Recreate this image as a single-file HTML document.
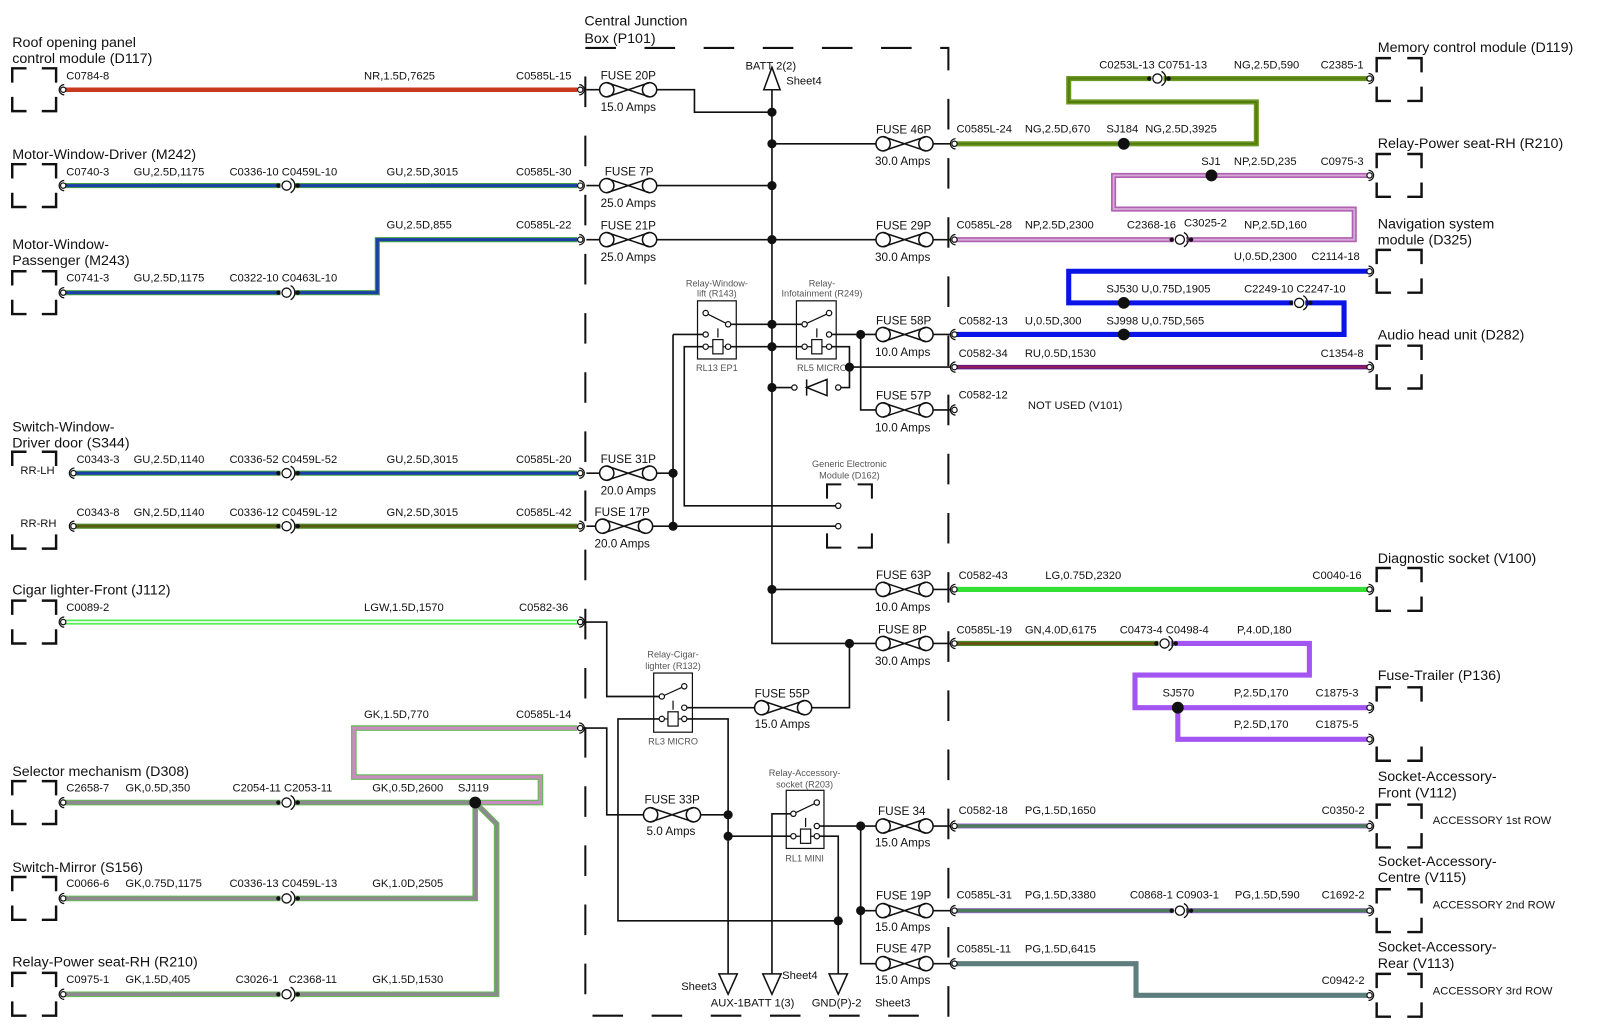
<!DOCTYPE html>
<html><head><meta charset="utf-8"><style>
html,body{margin:0;padding:0;background:#fff}
svg{display:block}
text{font-family:"Liberation Sans",Arial,sans-serif;fill:#111}
.s{font-size:11px}.t{font-size:14px}.f{font-size:11.5px}.r{font-size:9px;fill:#555}
.k{fill:none;stroke:#111;stroke-width:1.6}
.bx{fill:none;stroke:#111;stroke-width:2.4}
.w{fill:none;stroke-linejoin:miter}
</style></head><body>
<svg width="1600" height="1032" viewBox="0 0 1569 1012" xmlns="http://www.w3.org/2000/svg">
<defs>
<g id="fz" fill="none" stroke="#111" stroke-width="1.5"><circle cx="-21" cy="0" r="7"/><circle cx="21" cy="0" r="7"/><path d="M-21,-7L21,7M-21,7L21,-7"/></g>
<g id="ce" fill="#fff" stroke="#111" stroke-width="1.2"><circle r="2.6"/><path d="M-1,-5A5,5 0 0 1 -1,5" fill="none"/></g>
<g id="cx" fill="#fff" stroke="#111" stroke-width="1.2"><circle r="2.6"/><path d="M1,-5A5,5 0 0 0 1,5" fill="none"/></g>
<g id="ci" stroke="#111" stroke-width="1.3"><circle r="4.5" fill="#fff"/><path d="M4,-7A8,8 0 0 1 4,7" fill="none"/><circle cx="-8" r="1.5" fill="#111"/><circle cx="11" r="1.5" fill="#111"/></g>
<circle id="dt" r="4.5" fill="#111"/>
<circle id="sj" r="5.8" fill="#111"/>
<circle id="sc" r="2.6" fill="#fff" stroke="#111" stroke-width="1.2"/>
</defs>

<text class="t" x="573" y="25">Central Junction</text>
<text class="t" x="573" y="42">Box (P101)</text>
<path d="M574,47H930V996H574Z" fill="none" stroke="#111" stroke-width="2" stroke-dasharray="30,28"/>

<g class="bx">
<path d="M12,81V67H26M41,67H55V81M12,95V109H26M41,109H55V95"/>
<path d="M12,175V161H26M41,161H55V175M12,189V203H26M41,203H55V189"/>
<path d="M12,280V266H26M41,266H55V280M12,294V308H26M41,308H55V294"/>
<path d="M12,457V443H26M41,443H55V457M12,524V538H26M41,538H55V524"/>
<path d="M12,603V589H26M41,589H55V603M12,617V631H26M41,631H55V617"/>
<path d="M12,780V766H26M41,766H55V780M12,794V808H26M41,808H55V794"/>
<path d="M12,874V860H26M41,860H55V874M12,888V902H26M41,902H55V888"/>
<path d="M12,968V954H26M41,954H55V968M12,982V996H26M41,996H55V982"/>
<path d="M1350,71V57H1364M1380,57H1394V71M1350,85V99H1364M1380,99H1394V85"/>
<path d="M1350,165V151H1364M1380,151H1394V165M1350,179V193H1364M1380,193H1394V179"/>
<path d="M1350,259V245H1364M1380,245H1394V259M1350,273V287H1364M1380,287H1394V273"/>
<path d="M1350,353V339H1364M1380,339H1394V353M1350,367V381H1364M1380,381H1394V367"/>
<path d="M1350,571V557H1364M1380,557H1394V571M1350,585V599H1364M1380,599H1394V585"/>
<path d="M1350,688V674H1364M1380,674H1394V688M1350,732V746H1364M1380,746H1394V732"/>
<path d="M1350,803V789H1364M1380,789H1394V803M1350,817V831H1364M1380,831H1394V817"/>
<path d="M1350,886V872H1364M1380,872H1394V886M1350,900V914H1364M1380,914H1394V900"/>
<path d="M1350,969V955H1364M1380,955H1394V969M1350,983V997H1364M1380,997H1394V983"/>
<path d="M811,489V475H825M841,475H855V489M811,523V537H825M841,537H855V523" stroke-width="2"/>
</g>

<path class="w" d="M62,88H566" stroke="#c83a1e" stroke-width="4.5"/>
<g stroke="#46a046" stroke-width="5" class="w">
<path d="M62,182H275M289,182H566"/><path d="M62,287H275M289,287H370V235H566"/><path d="M72,464H275M289,464H566"/>
</g>
<g stroke="#1b3fa8" stroke-width="3" class="w">
<path d="M62,182H275M289,182H566"/><path d="M62,287H275M289,287H370V235H566"/><path d="M72,464H275M289,464H566"/>
</g>
<path class="w" d="M72,516H275M289,516H566" stroke="#4a8a2a" stroke-width="5"/>
<path class="w" d="M72,516H275M289,516H566" stroke="#5a5a12" stroke-width="2.5"/>
<path class="w" d="M62,610H566" stroke="#55ee55" stroke-width="5"/>
<path class="w" d="M62,610H566" stroke="#fff" stroke-width="1.5"/>
<g stroke="#66bb55" stroke-width="5.5" class="w">
<path d="M566,714H347V762H530V787H466"/><path d="M62,787H275M289,787H466"/><path d="M62,881H275M289,881H466V787"/><path d="M62,975H275M289,975H487V808L466,787"/>
</g>
<path class="w" d="M566,714H347V762H530V787H466" stroke="#c88cc0" stroke-width="3.2"/>
<g stroke="#8e8890" stroke-width="3.5" class="w">
<path d="M62,787H275M289,787H466"/><path d="M62,881H275M289,881H466V787"/><path d="M62,975H275M289,975H487V808L466,787"/>
</g>
<path class="w" d="M936,141H1232V100H1048V77H1129M1141,77H1343" stroke="#6a9a22" stroke-width="5"/>
<path class="w" d="M936,141H1232V100H1048V77H1129M1141,77H1343" stroke="#557a10" stroke-width="2"/>
<path class="w" d="M1343,172H1092V205H1328V235H1163M1151,235H936" stroke="#b060b0" stroke-width="5"/>
<path class="w" d="M1343,172H1092V205H1328V235H1163M1151,235H936" stroke="#d8a8d8" stroke-width="1.8"/>
<path class="w" d="M1343,266H1048V297H1268M1280,297H1318V328H936" stroke="#0a14e6" stroke-width="5"/>
<path class="w" d="M936,360H1343" stroke="#6a1a7a" stroke-width="4.5"/>
<path class="w" d="M936,360H1343" stroke="#a02050" stroke-width="1.3"/>
<path class="w" d="M936,578H1343" stroke="#33e033" stroke-width="5"/>
<path class="w" d="M936,631H1136" stroke="#4a8a2a" stroke-width="5"/>
<path class="w" d="M936,631H1136" stroke="#6a4a10" stroke-width="2.5"/>
<path class="w" d="M1148,631H1284V662H1113V694H1343M1155,694V725H1343" stroke="#a255f0" stroke-width="5"/>
<path class="w" d="M936,810H1343M936,893H1151M1163,893H1343" stroke="#9a6ad0" stroke-width="5"/>
<path class="w" d="M936,810H1343M936,893H1151M1163,893H1343" stroke="#4d7a5a" stroke-width="3.5"/>
<path class="w" d="M936,945H1114V976H1343" stroke="#5e7e7e" stroke-width="5"/>

<path class="k" d="M575,88H588M644,88H681V110H757M575,182H588M644,182H757M575,235H588M644,235H859M757,66V631H859M757,141H859M757,578H859M915,141H932M915,235H932M915,328H932M915,402H932M915,578H932M915,631H932M915,810H932M915,893H932M915,945H932"/>
<path class="k" d="M813,328H859M844,328V402H859M833,360H932M575,464H588M644,464H660M575,516H584M640,516H820M660,328V516M660,328H690M690,340H671V496H820M716,340H787M716,318H787M757,380H779M822,380H833V340H815"/>
<path class="k" d="M833,631V694H796M740,694H673M569,610H595V683H647M647,705H606V903H822M673,705H714V955M569,714H595V799H631M687,799H714M714,820H776M776,798H757V955M803,820H822V955M803,810H859M844,810V945H859M844,893H859"/>
<path d="M749,88L757,66L765,88Z" fill="#fff" stroke="#111" stroke-width="1.5"/>
<path d="M705,955L723,955L714,975ZM748,955L766,955L757,975ZM813,955L831,955L822,975Z" fill="#fff" stroke="#111" stroke-width="1.5"/>
<path d="M791,372V388M811,372V388L791,380Z" fill="#fff" stroke="#111" stroke-width="1.5"/>
<use href="#sc" x="779" y="380"/><use href="#sc" x="822" y="380"/>

<g fill="none" stroke="#111" stroke-width="1.2">
<rect x="684" y="295" width="38" height="57"/><rect x="781" y="295" width="39" height="57"/>
<rect x="641" y="660" width="38" height="58"/><rect x="771" y="775" width="37" height="57"/>
<path d="M692,307L714,318M789,318L813,307M649,683L671,673M778,798L801,787M704,322V331M801,322V331M660,687V696M790,802V811"/>
<rect x="699" y="333" width="10" height="14"/><rect x="796" y="333" width="10" height="14"/><rect x="655" y="698" width="10" height="14"/><rect x="785" y="813" width="10" height="14"/>
<path d="M694,340H699M709,340H712M791,340H796M806,340H811M651,705H655M665,705H669M780,820H785M795,820H799"/>
</g>
<g>
<use href="#sc" x="692" y="307"/><use href="#sc" x="714" y="318"/><use href="#sc" x="692" y="328"/><use href="#sc" x="692" y="340"/><use href="#sc" x="714" y="340"/>
<use href="#sc" x="789" y="318"/><use href="#sc" x="813" y="307"/><use href="#sc" x="813" y="328"/><use href="#sc" x="789" y="340"/><use href="#sc" x="813" y="340"/>
<use href="#sc" x="649" y="683"/><use href="#sc" x="671" y="673"/><use href="#sc" x="671" y="694"/><use href="#sc" x="649" y="705"/><use href="#sc" x="671" y="705"/>
<use href="#sc" x="778" y="798"/><use href="#sc" x="801" y="787"/><use href="#sc" x="801" y="810"/><use href="#sc" x="778" y="820"/><use href="#sc" x="801" y="820"/>
<use href="#sc" x="822" y="496"/><use href="#sc" x="822" y="516"/>
</g>
<g text-anchor="middle">
<text class="r" x="703" y="281">Relay-Window-</text><text class="r" x="703" y="291">lift (R143)</text><text class="r" x="703" y="364">RL13 EP1</text>
<text class="r" x="806" y="281">Relay-</text><text class="r" x="806" y="291">Infotainment (R249)</text><text class="r" x="806" y="364">RL5 MICRO</text>
<text class="r" x="660" y="645">Relay-Cigar-</text><text class="r" x="660" y="656">lighter (R132)</text><text class="r" x="660" y="730">RL3 MICRO</text>
<text class="r" x="789" y="761">Relay-Accessory-</text><text class="r" x="789" y="772">socket (R203)</text><text class="r" x="789" y="845">RL1 MINI</text>
<text class="r" x="833" y="458">Generic Electronic</text><text class="r" x="833" y="469">Module (D162)</text>
</g>

<use href="#fz" x="616" y="88"/><use href="#fz" x="616" y="182"/><use href="#fz" x="616" y="235"/><use href="#fz" x="616" y="464"/><use href="#fz" x="612" y="516"/>
<use href="#fz" x="887" y="141"/><use href="#fz" x="887" y="235"/><use href="#fz" x="887" y="328"/><use href="#fz" x="887" y="402"/><use href="#fz" x="887" y="578"/><use href="#fz" x="887" y="631"/><use href="#fz" x="887" y="810"/><use href="#fz" x="887" y="893"/><use href="#fz" x="887" y="945"/>
<use href="#fz" x="768" y="694"/><use href="#fz" x="659" y="799"/>
<g class="f">
<text x="589" y="78">FUSE 20P</text><text x="589" y="109">15.0 Amps</text>
<text x="593" y="172">FUSE 7P</text><text x="589" y="203">25.0 Amps</text>
<text x="589" y="225">FUSE 21P</text><text x="589" y="256">25.0 Amps</text>
<text x="589" y="454">FUSE 31P</text><text x="589" y="485">20.0 Amps</text>
<text x="583" y="506">FUSE 17P</text><text x="583" y="537">20.0 Amps</text>
<text x="859" y="131">FUSE 46P</text><text x="858" y="162">30.0 Amps</text>
<text x="859" y="225">FUSE 29P</text><text x="858" y="256">30.0 Amps</text>
<text x="859" y="318">FUSE 58P</text><text x="858" y="349">10.0 Amps</text>
<text x="859" y="392">FUSE 57P</text><text x="858" y="423">10.0 Amps</text>
<text x="859" y="568">FUSE 63P</text><text x="858" y="599">10.0 Amps</text>
<text x="861" y="621">FUSE 8P</text><text x="858" y="652">30.0 Amps</text>
<text x="861" y="799">FUSE 34</text><text x="858" y="830">15.0 Amps</text>
<text x="859" y="882">FUSE 19P</text><text x="858" y="913">15.0 Amps</text>
<text x="859" y="934">FUSE 47P</text><text x="858" y="965">15.0 Amps</text>
<text x="740" y="684">FUSE 55P</text><text x="740" y="714">15.0 Amps</text>
<text x="632" y="788">FUSE 33P</text><text x="634" y="819">5.0 Amps</text>
</g>
<g class="s">
<text x="731" y="68">BATT 2(2)</text><text x="771" y="83">Sheet4</text>
<text x="668" y="971">Sheet3</text><text x="767" y="960">Sheet4</text>
<text x="697" y="987">AUX-1BATT 1(3)</text><text x="796" y="987">GND(P)-2</text><text x="858" y="987">Sheet3</text>
</g>

<g>
<use href="#dt" x="757" y="110"/><use href="#dt" x="757" y="141"/><use href="#dt" x="757" y="182"/><use href="#dt" x="757" y="235"/><use href="#dt" x="757" y="318"/><use href="#dt" x="757" y="340"/><use href="#dt" x="757" y="380"/><use href="#dt" x="757" y="578"/>
<use href="#dt" x="844" y="328"/><use href="#dt" x="833" y="360"/><use href="#dt" x="660" y="464"/><use href="#dt" x="660" y="516"/><use href="#dt" x="833" y="631"/>
<use href="#dt" x="714" y="799"/><use href="#dt" x="714" y="820"/><use href="#dt" x="822" y="903"/><use href="#dt" x="844" y="810"/><use href="#dt" x="844" y="893"/>
<use href="#sj" x="1102" y="141"/><use href="#sj" x="1188" y="172"/><use href="#sj" x="1102" y="297"/><use href="#sj" x="1102" y="328"/><use href="#sj" x="1155" y="694"/><use href="#sj" x="466" y="787"/>
</g>

<g>
<use href="#cx" x="62" y="88"/><use href="#cx" x="62" y="182"/><use href="#cx" x="62" y="287"/><use href="#cx" x="72" y="464"/><use href="#cx" x="72" y="516"/><use href="#cx" x="62" y="610"/><use href="#cx" x="62" y="787"/><use href="#cx" x="62" y="881"/><use href="#cx" x="62" y="975"/>
<use href="#ce" x="569" y="88"/><use href="#ce" x="569" y="182"/><use href="#ce" x="569" y="235"/><use href="#ce" x="569" y="464"/><use href="#ce" x="569" y="516"/><use href="#ce" x="569" y="610"/><use href="#ce" x="569" y="714"/>
<use href="#cx" x="936" y="141"/><use href="#cx" x="936" y="235"/><use href="#cx" x="936" y="328"/><use href="#cx" x="936" y="360"/><use href="#cx" x="936" y="402"/><use href="#cx" x="936" y="578"/><use href="#cx" x="936" y="631"/><use href="#cx" x="936" y="810"/><use href="#cx" x="936" y="893"/><use href="#cx" x="936" y="945"/>
<use href="#ce" x="1343" y="77"/><use href="#ce" x="1343" y="172"/><use href="#ce" x="1343" y="266"/><use href="#ce" x="1343" y="360"/><use href="#ce" x="1343" y="578"/><use href="#ce" x="1343" y="694"/><use href="#ce" x="1343" y="725"/><use href="#ce" x="1343" y="810"/><use href="#ce" x="1343" y="893"/><use href="#ce" x="1343" y="976"/>
<use href="#ci" x="281" y="182"/><use href="#ci" x="281" y="287"/><use href="#ci" x="281" y="464"/><use href="#ci" x="281" y="516"/><use href="#ci" x="281" y="787"/><use href="#ci" x="281" y="881"/><use href="#ci" x="281" y="975"/>
<use href="#ci" x="1135" y="77"/><use href="#ci" x="1157" y="235"/><use href="#ci" x="1274" y="297"/><use href="#ci" x="1142" y="631"/><use href="#ci" x="1157" y="893"/>
</g>

<g class="t">
<text x="12" y="46">Roof opening panel</text><text x="12" y="62">control module (D117)</text>
<text x="12" y="156">Motor-Window-Driver (M242)</text>
<text x="12" y="244">Motor-Window-</text><text x="12" y="260">Passenger (M243)</text>
<text x="12" y="423">Switch-Window-</text><text x="12" y="439">Driver door (S344)</text>
<text x="12" y="583">Cigar lighter-Front (J112)</text>
<text x="12" y="761">Selector mechanism (D308)</text>
<text x="12" y="855">Switch-Mirror (S156)</text>
<text x="12" y="948">Relay-Power seat-RH (R210)</text>
<text x="1351" y="51">Memory control module (D119)</text>
<text x="1351" y="145">Relay-Power seat-RH (R210)</text>
<text x="1351" y="224">Navigation system</text><text x="1351" y="240">module (D325)</text>
<text x="1351" y="333">Audio head unit (D282)</text>
<text x="1351" y="552">Diagnostic socket (V100)</text>
<text x="1351" y="667">Fuse-Trailer (P136)</text>
<text x="1351" y="766">Socket-Accessory-</text><text x="1351" y="782">Front (V112)</text>
<text x="1351" y="849">Socket-Accessory-</text><text x="1351" y="865">Centre (V115)</text>
<text x="1351" y="933">Socket-Accessory-</text><text x="1351" y="949">Rear (V113)</text>
</g>

<g class="s">
<text x="20" y="465">RR-LH</text><text x="20" y="517">RR-RH</text>
<text x="65" y="78">C0784-8</text><text x="357" y="78">NR,1.5D,7625</text><text x="506" y="78">C0585L-15</text>
<text x="65" y="172">C0740-3</text><text x="131" y="172">GU,2.5D,1175</text><text x="225" y="172">C0336-10 C0459L-10</text><text x="379" y="172">GU,2.5D,3015</text><text x="506" y="172">C0585L-30</text>
<text x="379" y="224">GU,2.5D,855</text><text x="506" y="224">C0585L-22</text>
<text x="65" y="276">C0741-3</text><text x="131" y="276">GU,2.5D,1175</text><text x="225" y="276">C0322-10 C0463L-10</text>
<text x="75" y="454">C0343-3</text><text x="131" y="454">GU,2.5D,1140</text><text x="225" y="454">C0336-52 C0459L-52</text><text x="379" y="454">GU,2.5D,3015</text><text x="506" y="454">C0585L-20</text>
<text x="75" y="506">C0343-8</text><text x="131" y="506">GN,2.5D,1140</text><text x="225" y="506">C0336-12 C0459L-12</text><text x="379" y="506">GN,2.5D,3015</text><text x="506" y="506">C0585L-42</text>
<text x="65" y="599">C0089-2</text><text x="357" y="599">LGW,1.5D,1570</text><text x="509" y="599">C0582-36</text>
<text x="357" y="704">GK,1.5D,770</text><text x="506" y="704">C0585L-14</text>
<text x="65" y="776">C2658-7</text><text x="123" y="776">GK,0.5D,350</text><text x="228" y="776">C2054-11 C2053-11</text><text x="365" y="776">GK,0.5D,2600</text><text x="449" y="776">SJ119</text>
<text x="65" y="870">C0066-6</text><text x="123" y="870">GK,0.75D,1175</text><text x="225" y="870">C0336-13 C0459L-13</text><text x="365" y="870">GK,1.0D,2505</text>
<text x="65" y="964">C0975-1</text><text x="123" y="964">GK,1.5D,405</text><text x="231" y="964">C3026-1</text><text x="283" y="964">C2368-11</text><text x="365" y="964">GK,1.5D,1530</text>

<text x="1078" y="67">C0253L-13 C0751-13</text><text x="1210" y="67">NG,2.5D,590</text><text x="1295" y="67">C2385-1</text>
<text x="938" y="130">C0585L-24</text><text x="1005" y="130">NG,2.5D,670</text><text x="1085" y="130">SJ184</text><text x="1123" y="130">NG,2.5D,3925</text>
<text x="1178" y="162">SJ1</text><text x="1210" y="162">NP,2.5D,235</text><text x="1295" y="162">C0975-3</text>
<text x="938" y="224">C0585L-28</text><text x="1005" y="224">NP,2.5D,2300</text><text x="1105" y="224">C2368-16</text><text x="1161" y="222">C3025-2</text><text x="1220" y="224">NP,2.5D,160</text>
<text x="1210" y="255">U,0.5D,2300</text><text x="1286" y="255">C2114-18</text>
<text x="1085" y="287">SJ530 U,0.75D,1905</text><text x="1220" y="287">C2249-10 C2247-10</text>
<text x="940" y="318">C0582-13</text><text x="1005" y="318">U,0.5D,300</text><text x="1085" y="318">SJ998 U,0.75D,565</text>
<text x="940" y="350">C0582-34</text><text x="1005" y="350">RU,0.5D,1530</text><text x="1295" y="350">C1354-8</text>
<text x="940" y="391">C0582-12</text><text x="1008" y="401">NOT USED (V101)</text>
<text x="940" y="568">C0582-43</text><text x="1025" y="568">LG,0.75D,2320</text><text x="1287" y="568">C0040-16</text>
<text x="938" y="621">C0585L-19</text><text x="1005" y="621">GN,4.0D,6175</text><text x="1098" y="621">C0473-4 C0498-4</text><text x="1213" y="621">P,4.0D,180</text>
<text x="1140" y="683">SJ570</text><text x="1210" y="683">P,2.5D,170</text><text x="1290" y="683">C1875-3</text>
<text x="1210" y="714">P,2.5D,170</text><text x="1290" y="714">C1875-5</text>
<text x="940" y="798">C0582-18</text><text x="1005" y="798">PG,1.5D,1650</text><text x="1296" y="798">C0350-2</text><text x="1405" y="808">ACCESSORY 1st ROW</text>
<text x="938" y="881">C0585L-31</text><text x="1005" y="881">PG,1.5D,3380</text><text x="1108" y="881">C0868-1 C0903-1</text><text x="1211" y="881">PG,1.5D,590</text><text x="1296" y="881">C1692-2</text><text x="1405" y="891">ACCESSORY 2nd ROW</text>
<text x="938" y="934">C0585L-11</text><text x="1005" y="934">PG,1.5D,6415</text><text x="1296" y="965">C0942-2</text><text x="1405" y="975">ACCESSORY 3rd ROW</text>
</g>
</svg>
</body></html>
